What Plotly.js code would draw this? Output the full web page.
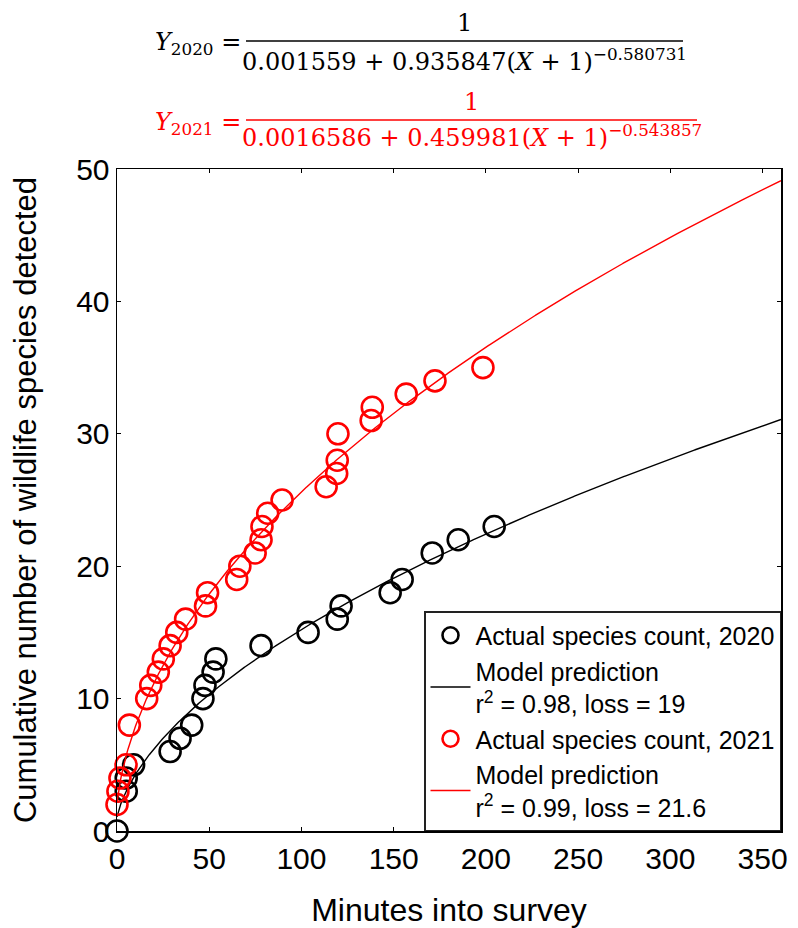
<!DOCTYPE html>
<html>
<head>
<meta charset="utf-8">
<script src="https://cdn.plot.ly/plotly-3.0.1.min.js"></script>
<style>html,body{margin:0;padding:0;background:#fff;}#chart{width:798px;height:928px;}</style>
</head>
<body>
<div id="chart"></div>
<script>
// ---- data ----
const minutes2020 = [0, 5, 5, 9, 28.8, 34.2, 40.5, 46.6, 47.7, 52.1, 53.6, 78.1, 103.6, 119.4, 121.5, 148.1, 154.6, 170.9, 185, 204.5];
const species2020 = [0, 3, 4, 5, 6, 7, 8, 10, 11, 12, 13, 14, 15, 16, 17, 18, 19, 21, 22, 23];
const minutes2021 = [0, 0.5, 1.6, 4.9, 6.7, 16.1, 18.3, 22.4, 25.1, 28.8, 32.4, 37.2, 48, 49.1, 64.9, 66.6, 74.9, 78.1, 78.6, 81.7, 89.5, 113.4, 119.1, 119.4, 119.8, 137.8, 138.4, 156.8, 172.4, 198.4];
const species2021 = [2, 3, 4, 5, 8, 10, 11, 12, 13, 14, 15, 16, 17, 18, 19, 20, 21, 22, 23, 24, 25, 26, 27, 28, 30, 31, 32, 33, 34, 35];
// model parameters printed on the chart: Y = 1 / (a + b (X+1)^c)
const model2020 = {a: 0.001559, b: 0.935847, c: -0.580731};
const model2021 = {a: 0.0016586, b: 0.459981, c: -0.543857};
const xTicks = [0, 50, 100, 150, 200, 250, 300, 350];
const yTicks = [0, 10, 20, 30, 40, 50];

function modelCurve(p) {
  const xs = [], ys = [];
  for (let i = 0; i <= 720; i++) { const x = i * 0.5; xs.push(x); ys.push(1 / (p.a + p.b * Math.pow(x + 1, p.c))); }
  return {xs, ys};
}
const c20 = modelCurve(model2020), c21 = modelCurve(model2021);

const traces = [
  {x: minutes2020, y: species2020, type: 'scatter', mode: 'markers', name: 'Actual species count, 2020',
   marker: {symbol: 'circle-open', size: 21, color: '#000', line: {width: 2.6, color: '#000'}}, cliponaxis: false},
  {x: c20.xs, y: c20.ys, type: 'scatter', mode: 'lines', name: 'Model prediction<br>r<sup>2</sup> = 0.98, loss = 19',
   line: {color: '#000', width: 1.4}},
  {x: minutes2021, y: species2021, type: 'scatter', mode: 'markers', name: 'Actual species count, 2021',
   marker: {symbol: 'circle-open', size: 21, color: '#ff0000', line: {width: 2.6, color: '#ff0000'}}, cliponaxis: false},
  {x: c21.xs, y: c21.ys, type: 'scatter', mode: 'lines', name: 'Model prediction<br>r<sup>2</sup> = 0.99, loss = 21.6',
   line: {color: '#ff0000', width: 1.4}}
];

// pixel -> paper helpers for the equation block (plot area 117..781 x 169..831)
const L = 117, R = 781, T = 169, B = 831;
const px = v => (v - L) / (R - L);
const py = v => (B - v) / (B - T);
const eqFont = (c, s) => ({family: 'DejaVu Serif, Liberation Serif, serif', size: s, color: c});

function equation(label, denom, color, rowY, barL, barR, dOff) {
  const cx = (barL + barR) / 2;
  return {
    ann: [
      {xref: 'paper', yref: 'paper', x: px(243), y: py(rowY + 3), xanchor: 'right', yanchor: 'middle', showarrow: false,
       text: label, font: eqFont(color, 24)},
      {xref: 'paper', yref: 'paper', x: px(cx), y: py(rowY - 18), xanchor: 'center', yanchor: 'middle', showarrow: false,
       text: '1', font: eqFont(color, 24)},
      {xref: 'paper', yref: 'paper', x: px(cx), y: py(rowY + dOff), xanchor: 'center', yanchor: 'middle', showarrow: false,
       text: denom, font: eqFont(color, 24)}
    ],
    shape: {type: 'line', xref: 'paper', yref: 'paper', x0: px(barL), x1: px(barR), y0: py(rowY), y1: py(rowY),
            line: {color: color, width: 1.5}}
  };
}
const e1 = equation('<i>Y</i><sub>2020</sub> =', '0.001559 + 0.935847(<i>X</i> + 1)<sup>−0.580731</sup>', '#000', 41, 246, 683, 19);
const e2 = equation('<i>Y</i><sub>2021</sub> =', '0.0016586 + 0.459981(<i>X</i> + 1)<sup>−0.543857</sup>', '#ff0000', 120, 246, 697, 16);

const sans = 'Liberation Sans, Arial, sans-serif';
const axisCommon = {
  showline: true, linecolor: '#000', linewidth: 1.5, mirror: 'ticks', ticks: 'inside', ticklen: 4,
  tickwidth: 1, tickcolor: '#000', showgrid: false, zeroline: false,
  tickfont: {family: sans, size: 30, color: '#000'}
};

const layout = {
  width: 798, height: 928,
  margin: {l: L, r: 798 - R, t: T, b: 928 - B},
  paper_bgcolor: '#fff', plot_bgcolor: '#fff',
  showlegend: true,
  xaxis: Object.assign({}, axisCommon, {range: [0, 360], tickvals: xTicks, ticktext: xTicks.map(String),
    title: {text: 'Minutes into survey', font: {family: sans, size: 32, color: '#000'}, standoff: 27}}),
  yaxis: Object.assign({}, axisCommon, {range: [0, 50], tickvals: yTicks, ticktext: yTicks.map(String),
    title: {text: 'Cumulative number of wildlife species detected', font: {family: sans, size: 31, color: '#000'}, standoff: 30}}),
  legend: {x: 1, y: 0, xanchor: 'right', yanchor: 'bottom', bgcolor: '#fff', bordercolor: '#222', borderwidth: 1.5,
    font: {family: sans, size: 25, color: '#000'}, tracegroupgap: 0, itemwidth: 40},
  annotations: [...e1.ann, ...e2.ann],
  shapes: [e1.shape, e2.shape]
};

Plotly.newPlot('chart', traces, layout, {displayModeBar: false, staticPlot: true});
</script>
</body>
</html>
